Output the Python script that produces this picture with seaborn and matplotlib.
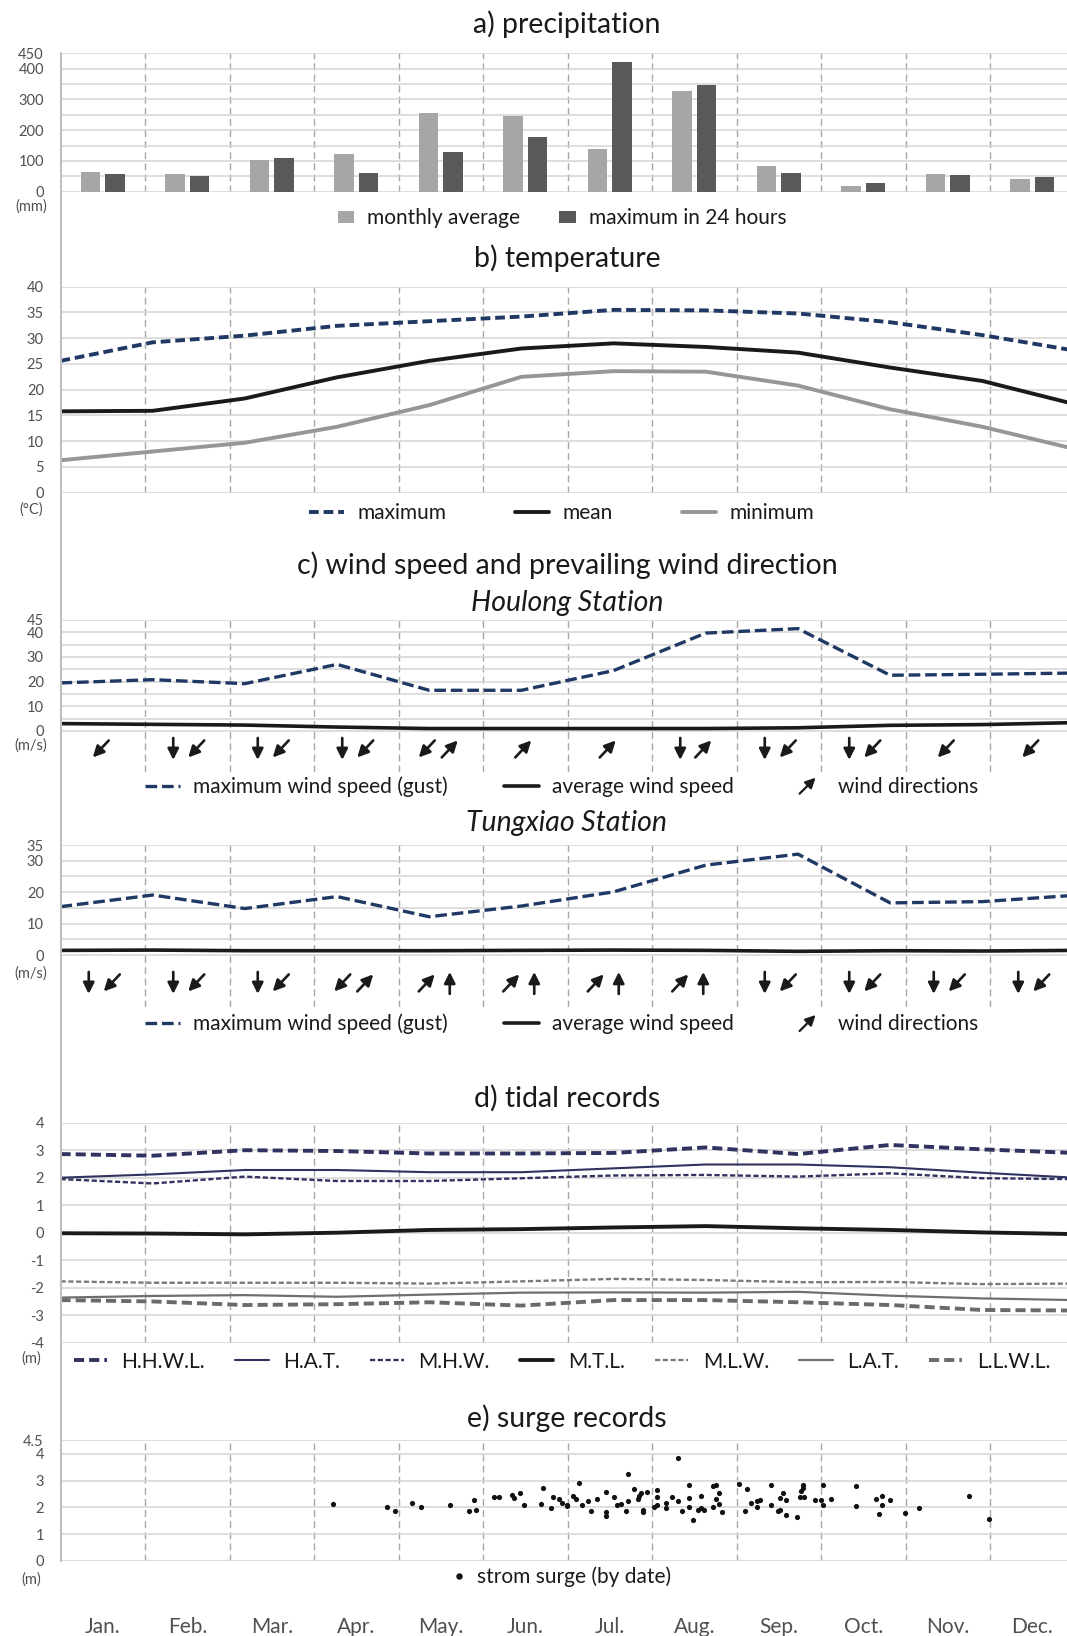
import numpy as np
import pandas as pd
import matplotlib
matplotlib.use("Agg")
import matplotlib.pyplot as plt
import seaborn as sns
from matplotlib import transforms
from matplotlib.lines import Line2D
from matplotlib.patches import Patch, FancyArrowPatch
from matplotlib.legend_handler import HandlerBase

# ---------------------------------------------------------------- data
months = ["Jan.", "Feb.", "Mar.", "Apr.", "May.", "Jun.",
          "Jul.", "Aug.", "Sep.", "Oct.", "Nov.", "Dec."]

# a) precipitation (mm)
precip_avg = [63, 58, 102, 122, 255, 246, 138, 329, 85, 18, 58, 42]
precip_max24 = [56, 52, 110, 60, 130, 179, 421, 346, 62, 28, 55, 47]
precip_ticks = [0, 50, 100, 150, 200, 250, 300, 350, 400, 450]
precip_ticklabels = ["0", "", "100", "", "200", "", "300", "", "400", "450"]

# b) temperature (deg C)
temp_max = [25.6, 29.2, 30.5, 32.4, 33.3, 34.2, 35.5, 35.4, 34.8, 33.1, 30.6, 27.6]
temp_mean = [15.8, 15.9, 18.3, 22.4, 25.6, 28.0, 29.0, 28.3, 27.2, 24.3, 21.7, 17.2]
temp_min = [6.3, 8.0, 9.7, 12.8, 17.0, 22.5, 23.6, 23.5, 20.8, 16.2, 12.8, 8.5]
temp_ticks = [0, 5, 10, 15, 20, 25, 30, 35, 40]
temp_ticklabels = ["0", "5", "10", "15", "20", "25", "30", "35", "40"]

# c) wind, Houlong station (m/s)
houlong_gust = [19.5, 20.8, 19.2, 27.0, 16.5, 16.5, 24.5, 39.7, 41.5, 22.6, 23.0, 23.5]
houlong_avg = [3.0, 2.7, 2.4, 1.6, 1.0, 1.0, 1.0, 1.0, 1.3, 2.3, 2.6, 3.4]
houlong_dirs = ["↙", "↓↙", "↓↙", "↓↙", "↙↗", "↗", "↗", "↓↗", "↓↙", "↓↙", "↙", "↙"]
houlong_ticks = [0, 5, 10, 15, 20, 25, 30, 35, 40, 45]
houlong_ticklabels = ["0", "", "10", "", "20", "", "30", "", "40", "45"]

# c) wind, Tungxiao station (m/s)
tungxiao_gust = [15.4, 19.1, 14.8, 18.6, 12.2, 15.6, 20.1, 28.6, 32.1, 16.6, 17.0, 19.0]
tungxiao_avg = [1.5, 1.6, 1.4, 1.4, 1.4, 1.5, 1.6, 1.5, 1.2, 1.4, 1.3, 1.5]
tungxiao_dirs = ["↓↙", "↓↙", "↓↙", "↙↗", "↗↑", "↗↑", "↗↑", "↗↑", "↓↙", "↓↙", "↓↙", "↓↙"]
tungxiao_ticks = [0, 5, 10, 15, 20, 25, 30, 35]
tungxiao_ticklabels = ["0", "", "10", "", "20", "", "30", "35"]

# d) tidal records (m)
tide_hhwl = [2.86, 2.80, 3.00, 2.97, 2.88, 2.88, 2.90, 3.10, 2.86, 3.19, 3.03, 2.90]
tide_hat = [2.00, 2.12, 2.28, 2.28, 2.20, 2.20, 2.34, 2.48, 2.48, 2.38, 2.18, 2.00]
tide_mhw = [1.95, 1.79, 2.04, 1.88, 1.88, 1.98, 2.08, 2.10, 2.04, 2.16, 1.98, 1.95]
tide_mtl = [-0.02, -0.03, -0.06, 0.00, 0.10, 0.13, 0.19, 0.24, 0.16, 0.10, 0.01, -0.05]
tide_mlw = [-1.77, -1.82, -1.82, -1.82, -1.85, -1.77, -1.68, -1.72, -1.80, -1.79, -1.87, -1.85]
tide_lat = [-2.36, -2.30, -2.27, -2.33, -2.25, -2.18, -2.17, -2.18, -2.15, -2.29, -2.39, -2.45]
tide_llwl = [-2.45, -2.50, -2.63, -2.60, -2.53, -2.65, -2.45, -2.45, -2.53, -2.63, -2.81, -2.83]
tide_names = ["H.H.W.L.", "H.A.T.", "M.H.W.", "M.T.L.", "M.L.W.", "L.A.T.", "L.L.W.L."]
tide_ticks = [-4, -3, -2, -1, 0, 1, 2, 3, 4]
tide_ticklabels = ["-4", "-3", "-2", "-1", "0", "1", "2", "3", "4"]

# e) storm surge records: (date as fractional month from 1 Jan, height m)
surge_records = [
    (3.23, 2.13), (3.86, 2.02), (3.96, 1.85), (4.16, 2.17), (4.27, 2.00),
    (4.61, 2.09), (4.84, 1.87), (4.89, 2.27), (4.92, 1.91), (5.13, 2.37),
    (5.19, 2.40), (5.34, 2.45), (5.37, 2.34), (5.44, 2.54), (5.48, 2.07),
    (5.69, 2.12), (5.71, 2.74), (5.80, 1.96), (5.83, 2.39), (5.90, 2.33),
    (5.94, 2.18), (5.99, 2.10), (5.99, 2.05), (6.07, 2.44), (6.10, 2.33),
    (6.14, 2.89), (6.17, 2.08), (6.24, 2.23), (6.28, 1.86), (6.35, 2.30),
    (6.45, 2.58), (6.45, 1.83), (6.45, 1.67), (6.55, 2.37), (6.59, 2.09),
    (6.63, 2.11), (6.69, 1.86), (6.72, 3.25), (6.72, 2.23), (6.79, 2.69),
    (6.83, 2.33), (6.85, 2.42), (6.87, 2.55), (6.89, 1.90), (6.89, 1.82),
    (6.94, 2.58), (7.02, 2.02), (7.06, 2.64), (7.06, 2.39), (7.06, 2.08),
    (7.16, 2.17), (7.16, 1.96), (7.24, 2.37), (7.31, 3.84), (7.31, 2.24),
    (7.35, 1.87), (7.44, 2.84), (7.44, 2.35), (7.44, 2.02), (7.48, 1.52),
    (7.55, 1.90), (7.58, 2.42), (7.58, 1.98), (7.62, 1.90), (7.72, 2.79),
    (7.72, 2.00), (7.76, 2.83), (7.76, 2.33), (7.79, 2.54), (7.79, 2.11),
    (7.83, 1.81), (8.03, 2.86), (8.10, 1.87), (8.13, 2.69), (8.17, 2.17),
    (8.24, 2.24), (8.24, 2.00), (8.28, 2.27), (8.41, 2.83), (8.41, 2.07),
    (8.49, 1.86), (8.51, 1.92), (8.51, 2.35), (8.55, 2.54), (8.58, 2.29),
    (8.58, 1.73), (8.72, 1.65), (8.75, 2.39), (8.76, 2.61), (8.79, 2.85),
    (8.79, 2.73), (8.80, 2.39), (8.93, 2.29), (9.00, 2.27), (9.02, 2.85),
    (9.02, 2.09), (9.12, 2.33), (9.41, 2.81), (9.41, 2.06), (9.65, 2.30),
    (9.69, 1.76), (9.72, 2.43), (9.72, 2.09), (9.82, 2.29), (9.99, 1.78),
    (10.16, 1.98), (10.75, 2.43), (10.99, 1.55),
]
surge_ticks = [0, 1, 2, 3, 4, 4.5]
surge_ticklabels = ["0", "1", "2", "3", "4", "4.5"]

# ---------------------------------------------------------------- style
sns.set_style("white")
plt.rcParams["font.family"] = ["Lato", "DejaVu Sans"]
plt.rcParams["axes.unicode_minus"] = False

W, H = 1067, 1636
fig = plt.figure(figsize=(W / 100, H / 100), dpi=100)
X0, X1 = 60.5, 1074.5
XC = 562
TXT = "#1a1a1a"
GRAY_TXT = "#505050"
NAVY = "#203864"
TNAVY = "#30325f"
BLACK = "#1a1a1a"
TITLE_FS = 20.5
LEG_FS = 15
TICK_FS = 10.5
UNIT_FS = 10.5


def new_ax(top, bottom):
    return fig.add_axes([X0 / W, 1 - bottom / H, (X1 - X0) / W, (bottom - top) / H])


def style_ax(ax, ylim, ticks, labels):
    ax.set_xlim(-0.5, 11.5)
    ax.set_ylim(*ylim)
    for s in ax.spines.values():
        s.set_visible(False)
    ax.set_xticks(np.arange(0.5, 11, 1))
    ax.set_xticklabels([])
    ax.set_yticks(ticks)
    ax.set_yticklabels(labels)
    ax.set_xlabel("")
    ax.set_ylabel("")
    ax.tick_params(axis="x", length=0)
    ax.tick_params(axis="y", length=0, pad=12, labelsize=TICK_FS, labelcolor=GRAY_TXT)
    ax.grid(axis="y", color="#d4d4d4", lw=1.1)
    ax.grid(axis="x", color="#a8a8a8", lw=1.0, ls=(0, (5, 3)))
    ax.set_axisbelow(True)
    ax.patch.set_alpha(0)


def title(y, s, **kw):
    fig.text(567 / W, 1 - y / H, s, ha="center", va="center", fontsize=TITLE_FS, color=TXT, **kw)


def unit(y, s):
    fig.text(31 / W, 1 - y / H, s, ha="center", va="center", fontsize=UNIT_FS, color=GRAY_TXT)


class ArrowProxy:
    pass


class HandlerArrow(HandlerBase):
    def create_artists(self, legend, orig_handle, xdescent, ydescent, width, height, fontsize, trans):
        cx = -xdescent + width / 2
        cy = -ydescent + height / 2
        d = height * 0.55
        p = FancyArrowPatch((cx - d, cy - d), (cx + d, cy + d),
                            arrowstyle="-|>,head_length=0.6,head_width=0.3",
                            mutation_scale=10, lw=1.6, color=BLACK,
                            shrinkA=0, shrinkB=0, transform=trans)
        return [p]


def legend(handles, labels, y, **kw):
    opts = dict(loc="center", bbox_to_anchor=(XC / W, 1 - y / H), ncol=len(handles),
                frameon=False, fontsize=LEG_FS, borderaxespad=0, borderpad=0)
    opts.update(kw)
    leg = fig.legend(handles, labels, **opts)
    for t in leg.get_texts():
        t.set_color(TXT)
    return leg


ARROW_VEC = {"↓": (0, -1), "↑": (0, 1), "↙": (-1, -1), "↗": (1, 1)}


def draw_arrows(ax, dirs, yfrac):
    blend = transforms.blended_transform_factory(ax.transData, ax.transAxes)
    for i, code in enumerate(dirs):
        offs = [-2] if len(code) == 1 else [-14, 9]
        for g, off in zip(code, offs):
            vx, vy = ARROW_VEC[g]
            hx, hy = (0, 11 * vy) if vx == 0 else (8 * vx, 8.5 * vy)
            head = transforms.offset_copy(blend, fig=fig, x=off + hx, y=hy, units="dots")
            tail = transforms.offset_copy(blend, fig=fig, x=off - hx, y=-hy, units="dots")
            ax.annotate("", xy=(i, yfrac), xycoords=head, xytext=(i, yfrac), textcoords=tail,
                        arrowprops=dict(arrowstyle="-|>,head_length=0.6,head_width=0.3",
                                        mutation_scale=11, lw=1.9, color=BLACK,
                                        shrinkA=0, shrinkB=0),
                        annotation_clip=False)


x_line = np.linspace(-0.5, 11.5, len(months))

# ---------------------------------------------------------------- a) precipitation
ax_a = new_ax(53.3, 191.7)
df_p = pd.DataFrame({
    "month": months * 2,
    "value": precip_avg + precip_max24,
    "series": ["monthly average"] * 12 + ["maximum in 24 hours"] * 12,
})
bar_cols = ["#a6a6a6", "#595959"]
sns.barplot(data=df_p, x="month", y="value", hue="series", order=months,
            hue_order=["monthly average", "maximum in 24 hours"], palette=bar_cols,
            width=0.58, gap=0.2, saturation=1, errorbar=None, linewidth=0,
            legend=False, ax=ax_a)
style_ax(ax_a, (0, 450), precip_ticks, precip_ticklabels)
title(24, "a) precipitation")
unit(207, "(mm)")
legend([Patch(facecolor=c, edgecolor="none") for c in bar_cols],
       ["monthly average", "maximum in 24 hours"], 218.3,
       handlelength=0.8, handleheight=0.55, handletextpad=0.6, columnspacing=1.9)

# ---------------------------------------------------------------- b) temperature
ax_b = new_ax(286.7, 492.7)
sns.lineplot(x=x_line, y=temp_max, ax=ax_b, color=NAVY, lw=2.8, ls=(0, (2.5, 1.25)))
sns.lineplot(x=x_line, y=temp_mean, ax=ax_b, color=BLACK, lw=2.8)
sns.lineplot(x=x_line, y=temp_min, ax=ax_b, color="#969696", lw=2.8)
style_ax(ax_b, (0, 40), temp_ticks, temp_ticklabels)
title(258, "b) temperature")
unit(510, "(°C)")
legend(ax_b.get_lines()[-3:], ["maximum", "mean", "minimum"], 513,
       handlelength=1.65, handletextpad=0.65, columnspacing=3.3)

# ---------------------------------------------------------------- c) wind
title(565, "c) wind speed and prevailing wind direction")

ax_c1 = new_ax(620, 771.7)
sns.lineplot(x=x_line, y=houlong_gust, ax=ax_c1, color=NAVY, lw=2.4, ls=(0, (3.5, 1.45)))
sns.lineplot(x=x_line, y=houlong_avg, ax=ax_c1, color=BLACK, lw=2.6)
style_ax(ax_c1, (-16.5, 45), houlong_ticks, houlong_ticklabels)
draw_arrows(ax_c1, houlong_dirs, 0.15)
title(603, "Houlong Station", style="italic")
unit(746, "(m/s)")
wind_labels = ["maximum wind speed (gust)", "average wind speed", "wind directions"]
legend(ax_c1.get_lines()[-2:] + [ArrowProxy()], wind_labels, 786.7,
       handler_map={ArrowProxy: HandlerArrow()},
       handlelength=1.65, handletextpad=0.65, columnspacing=2.7)

ax_c2 = new_ax(845, 1006.7)
sns.lineplot(x=x_line, y=tungxiao_gust, ax=ax_c2, color=NAVY, lw=2.4, ls=(0, (3.5, 1.45)))
sns.lineplot(x=x_line, y=tungxiao_avg, ax=ax_c2, color=BLACK, lw=2.6)
style_ax(ax_c2, (-16.4, 35), tungxiao_ticks, tungxiao_ticklabels)
draw_arrows(ax_c2, tungxiao_dirs, 0.147)
title(823, "Tungxiao Station", style="italic")
unit(974, "(m/s)")
legend(ax_c2.get_lines()[-2:] + [ArrowProxy()], wind_labels, 1024,
       handler_map={ArrowProxy: HandlerArrow()},
       handlelength=1.65, handletextpad=0.65, columnspacing=2.7)

# ---------------------------------------------------------------- d) tidal records
ax_d = new_ax(1122.7, 1342.7)
tide_series = [tide_hhwl, tide_hat, tide_mhw, tide_mtl, tide_mlw, tide_lat, tide_llwl]
tide_styles = [
    dict(color=TNAVY, lw=2.8, ls=(0, (2.6, 1.3))),
    dict(color=TNAVY, lw=1.5),
    dict(color=TNAVY, lw=1.7, ls=(0, (2.2, 1.1))),
    dict(color=BLACK, lw=2.8),
    dict(color="#7a7a7a", lw=1.7, ls=(0, (2.2, 1.1))),
    dict(color="#6e6e6e", lw=1.6),
    dict(color="#6a6a6a", lw=2.8, ls=(0, (2.6, 1.3))),
]
for vals, st in zip(tide_series, tide_styles):
    sns.lineplot(x=x_line, y=vals, ax=ax_d, **st)
style_ax(ax_d, (-4, 4), tide_ticks, tide_ticklabels)
title(1098, "d) tidal records")
unit(1359, "(m)")
legend(ax_d.get_lines()[-7:], tide_names, 1361.7,
       handlelength=1.6, handletextpad=0.7, columnspacing=1.45)

# ---------------------------------------------------------------- e) surge records
ax_e = new_ax(1440.3, 1561)
surge_date = np.array([r[0] for r in surge_records])
surge_height = np.array([r[1] for r in surge_records])
sns.scatterplot(x=surge_date - 0.5, y=surge_height, ax=ax_e, color="#111111",
                s=14, linewidth=0, legend=False)
style_ax(ax_e, (0, 4.5), surge_ticks, surge_ticklabels)
title(1418, "e) surge records")
unit(1580, "(m)")
legend([Line2D([], [], ls="none", marker="o", markersize=3.6, color="#111111")],
       ["strom surge (by date)"], 1576.7, handlelength=0.6, handletextpad=0.6)

blend_e = transforms.blended_transform_factory(ax_e.transData, ax_e.transAxes)
for i, m in enumerate(months):
    ax_e.text(i, -0.544, m, transform=blend_e, ha="center", va="center",
              fontsize=LEG_FS, color=GRAY_TXT, clip_on=False)

# continuous left axis line
fig.add_artist(Line2D([X0 / W, X0 / W], [1 - 53.3 / H, 1 - 1561 / H],
                      transform=fig.transFigure, color="#bfbfbf", lw=1.5))

fig.savefig("out.png", dpi=100)
